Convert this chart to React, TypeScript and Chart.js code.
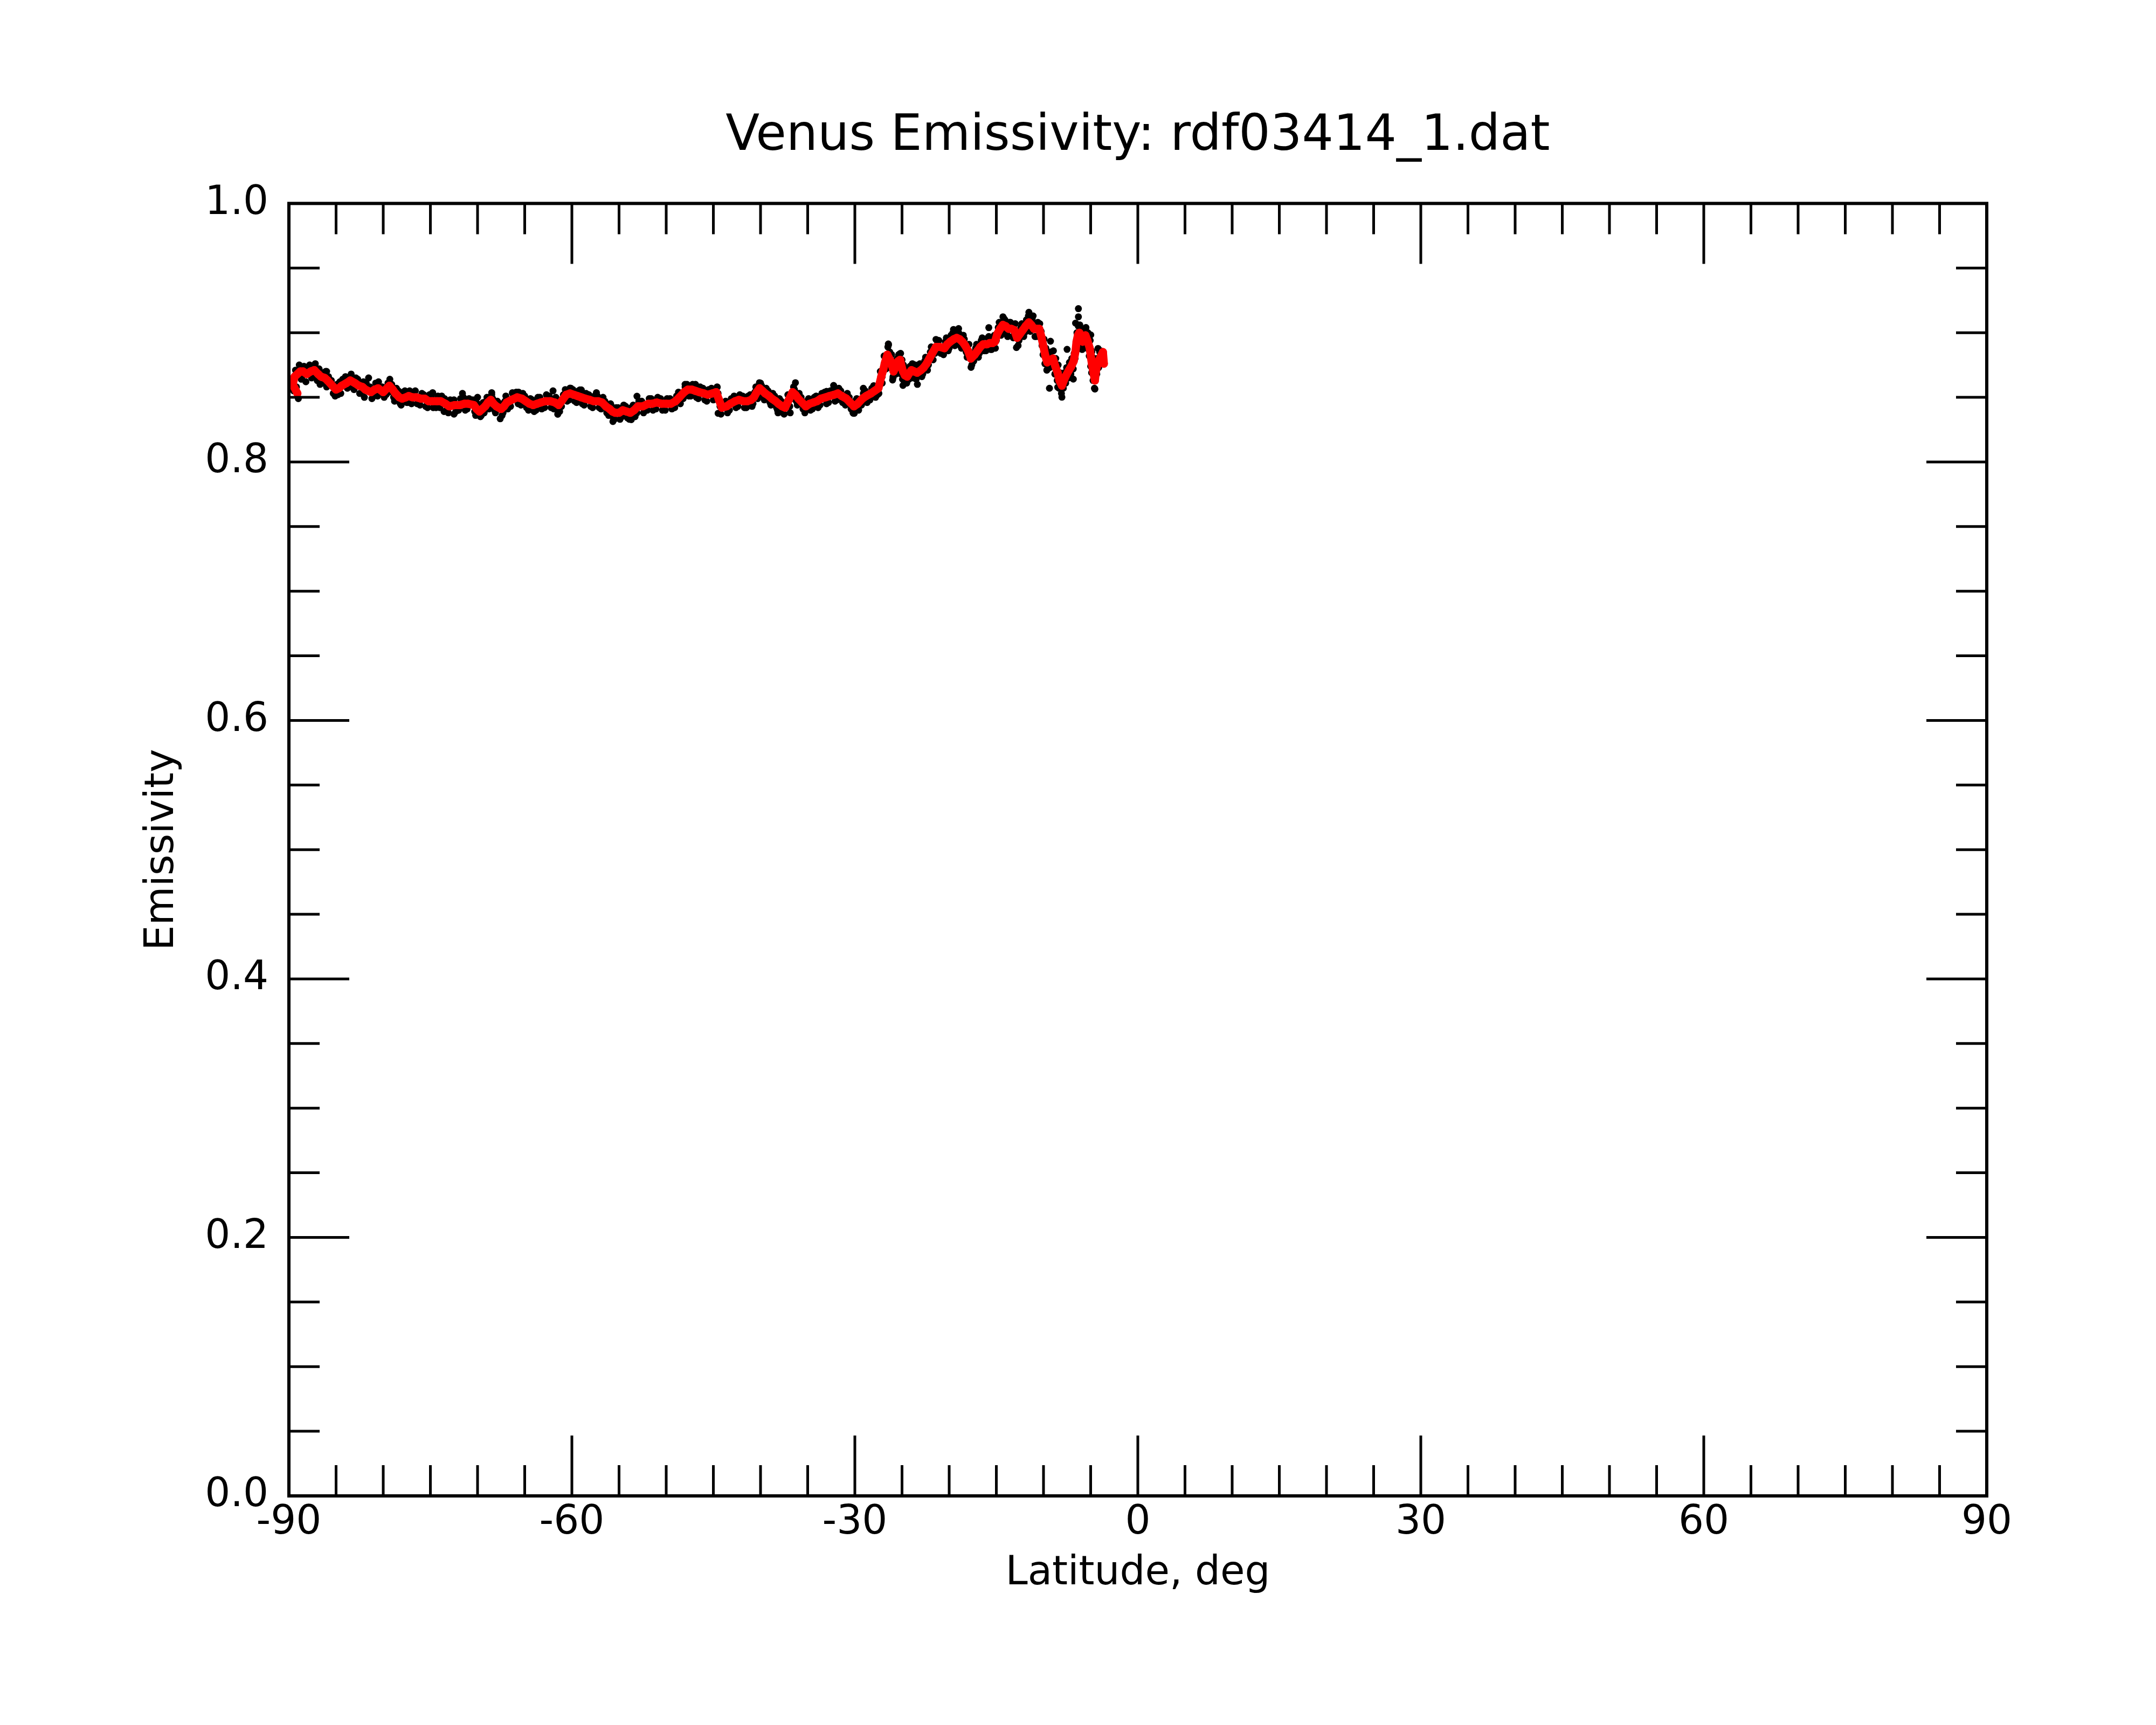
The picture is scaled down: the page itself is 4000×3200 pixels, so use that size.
import React, { useEffect, useRef } from 'react';
import Chart from 'chart.js/auto';

const TITLE = 'Venus Emissivity: rdf03414_1.dat';
const X_TITLE = 'Latitude, deg';
const Y_TITLE = 'Emissivity';
const FONT = 'DejaVu Sans';

const xMajorTicks = [-90, -60, -30, 0, 30, 60, 90];
const xMinorTicks = [-85, -80, -75, -70, -65, -55, -50, -45, -40, -35, -25, -20, -15, -10, -5,
  5, 10, 15, 20, 25, 35, 40, 45, 50, 55, 65, 70, 75, 80, 85];
const yMajorTicks = [0, 0.2, 0.4, 0.6, 0.8, 1.0];
const yMinorTicks = [0.05, 0.1, 0.15, 0.25, 0.3, 0.35, 0.45, 0.5, 0.55, 0.65, 0.7, 0.75, 0.85, 0.9, 0.95];

// smoothed emissivity (red)
const smoothLat = [
  -89.1, -89.6, -89.4, -88.8, -88.5, -88.1, -87.7, -87.3, -86.9, -86.6, -86.2, -85.9, -85.4, -85.0, -84.7,
  -84.4, -83.9, -83.5, -83.0, -82.6, -82.2, -81.9, -81.3, -80.9, -80.55, -80.0, -79.6, -79.35, -79.0, -78.7,
  -78.3, -78.0, -77.6, -77.3, -76.9, -76.5, -76.0, -75.6, -75.2, -74.8, -74.3, -73.9, -73.4, -73.0, -72.4,
  -71.9, -71.4, -71.0, -70.4, -70.1, -69.8, -69.5, -69.2, -68.9, -68.6, -68.3, -68.0, -67.5, -67.2, -66.9,
  -66.4, -65.8, -65.3, -64.9, -64.5, -64.1, -63.7, -63.3, -62.8, -62.3, -61.8, -61.4, -61.0, -60.6, -60.2,
  -59.8, -59.4, -59.0, -58.6, -58.1, -57.7, -57.2, -56.8, -56.4, -56.0, -55.7, -55.4, -55.0, -54.6, -54.2,
  -53.8, -53.4, -53.0, -52.5, -51.9, -51.5, -51.0, -50.5, -50.0, -49.5, -49.0, -48.6, -48.1, -47.7, -47.3,
  -46.9, -46.5, -46.0, -45.6, -45.1, -44.7, -44.4, -44.1, -43.6, -43.2, -42.7, -42.3, -41.8, -41.4, -41.0,
  -40.7, -40.4, -40.1, -39.8, -39.5, -39.1, -38.8, -38.4, -38.1, -37.7, -37.4, -37.0, -36.6, -36.3, -36.0,
  -35.6, -35.2, -34.8, -34.4, -34.0, -33.6, -33.1, -32.7, -32.2, -31.8, -31.4, -30.9, -30.5, -30.1, -29.7,
  -29.2, -28.8, -28.3, -27.9, -27.5, -27.2, -27.0, -26.8, -26.55, -26.35, -26.2, -26.0, -25.9, -25.7, -25.55,
  -25.4, -25.2, -25.05, -24.9, -24.7, -24.45, -24.2, -24.0, -23.7, -23.4, -23.0, -22.7, -22.4, -22.1, -21.8,
  -21.4, -21.0, -20.5, -20.2, -19.9, -19.5, -19.2, -18.9, -18.6, -18.3, -18.0, -17.7, -17.3, -17.0, -16.7,
  -16.4, -16.0, -15.7, -15.4, -15.15, -14.9, -14.6, -14.3, -14.0, -13.7, -13.4, -13.1, -12.8, -12.5, -12.2,
  -11.9, -11.55, -11.3, -11.0, -10.7, -10.45, -10.2, -10.0, -9.8, -9.6, -9.3, -9.0, -8.75, -8.5, -8.3,
  -8.05, -7.85, -7.6, -7.3, -7.05, -6.8, -6.6, -6.5, -6.35, -6.2, -6.0, -5.85, -5.7, -5.55, -5.35,
  -5.1, -4.95, -4.85, -4.7, -4.55, -4.45, -4.33, -4.1, -3.9, -3.7, -3.6,
];
const smoothVal = [
  0.853, 0.860, 0.866, 0.870, 0.870, 0.868, 0.870, 0.871, 0.868, 0.866, 0.865, 0.863, 0.859, 0.856, 0.857,
  0.859, 0.861, 0.863, 0.861, 0.859, 0.858, 0.856, 0.854, 0.856, 0.857, 0.854, 0.857, 0.859, 0.856, 0.853,
  0.850, 0.849, 0.850, 0.851, 0.850, 0.850, 0.849, 0.849, 0.847, 0.847, 0.847, 0.847, 0.845, 0.843, 0.844,
  0.844, 0.845, 0.845, 0.844, 0.841, 0.839, 0.841, 0.843, 0.846, 0.848, 0.845, 0.843, 0.841, 0.843, 0.846,
  0.848, 0.850, 0.849, 0.847, 0.845, 0.844, 0.845, 0.846, 0.847, 0.847, 0.846, 0.844, 0.848, 0.852, 0.853,
  0.852, 0.851, 0.850, 0.849, 0.848, 0.847, 0.847, 0.846, 0.843, 0.841, 0.839, 0.838, 0.838, 0.840, 0.839,
  0.838, 0.840, 0.843, 0.843, 0.845, 0.845, 0.846, 0.845, 0.845, 0.845, 0.847, 0.850, 0.854, 0.856, 0.856,
  0.855, 0.854, 0.853, 0.852, 0.853, 0.854, 0.848, 0.842, 0.843, 0.845, 0.847, 0.848, 0.847, 0.847, 0.848,
  0.850, 0.854, 0.857, 0.855, 0.853, 0.851, 0.849, 0.847, 0.845, 0.843, 0.842, 0.848, 0.854, 0.852, 0.849,
  0.846, 0.843, 0.845, 0.846, 0.847, 0.849, 0.850, 0.851, 0.852, 0.853, 0.851, 0.849, 0.846, 0.843, 0.845,
  0.849, 0.851, 0.853, 0.855, 0.857, 0.866, 0.871, 0.877, 0.883, 0.880, 0.878, 0.873, 0.870, 0.873, 0.875,
  0.878, 0.879, 0.874, 0.870, 0.867, 0.866, 0.869, 0.871, 0.870, 0.869, 0.871, 0.873, 0.876, 0.880, 0.884,
  0.889, 0.889, 0.888, 0.891, 0.893, 0.895, 0.896, 0.895, 0.893, 0.890, 0.886, 0.880, 0.883, 0.886, 0.889,
  0.891, 0.891, 0.892, 0.892, 0.893, 0.899, 0.903, 0.906, 0.905, 0.903, 0.903, 0.902, 0.896, 0.899, 0.902,
  0.905, 0.908, 0.906, 0.903, 0.903, 0.903, 0.896, 0.889, 0.882, 0.877, 0.879, 0.880, 0.874, 0.869, 0.863,
  0.859, 0.863, 0.867, 0.871, 0.874, 0.878, 0.886, 0.893, 0.898, 0.900, 0.896, 0.893, 0.896, 0.898, 0.894,
  0.888, 0.880, 0.875, 0.869, 0.863, 0.870, 0.874, 0.879, 0.882, 0.885, 0.876,
];

// raw samples (black dots): [latitude, emissivity]
const rawPoints: [number, number][] = [
  [-89.2, 0.858], [-89.0, 0.849], [-89.7, 0.864], [-89.5, 0.855], [-89.3, 0.871], [-89.5, 0.862],
  [-88.9, 0.875], [-88.7, 0.864], [-88.4, 0.874], [-88.6, 0.866], [-88.0, 0.873], [-88.2, 0.862],
  [-87.8, 0.875], [-87.6, 0.865], [-87.2, 0.876], [-87.4, 0.867], [-86.8, 0.872], [-87.0, 0.863],
  [-86.5, 0.869], [-86.7, 0.860], [-86.1, 0.870], [-86.3, 0.861], [-85.8, 0.866], [-86.0, 0.858],
  [-85.5, 0.863], [-85.3, 0.853], [-84.9, 0.860], [-85.1, 0.851], [-84.6, 0.862], [-84.8, 0.852],
  [-84.3, 0.864], [-84.5, 0.853], [-84.0, 0.866], [-83.8, 0.857], [-83.4, 0.868], [-83.6, 0.858],
  [-82.9, 0.865], [-83.1, 0.856], [-82.7, 0.864], [-82.5, 0.853], [-82.1, 0.862], [-82.3, 0.853],
  [-81.8, 0.861], [-82.0, 0.850], [-81.4, 0.858], [-81.2, 0.849], [-80.8, 0.861], [-81.0, 0.851],
  [-80.5, 0.862], [-80.6, 0.851], [-80.1, 0.858], [-79.9, 0.850], [-79.5, 0.861], [-79.7, 0.852],
  [-79.3, 0.864], [-79.4, 0.854], [-79.1, 0.860], [-78.9, 0.850], [-78.6, 0.857], [-78.8, 0.847],
  [-78.4, 0.855], [-78.2, 0.845], [-77.9, 0.854], [-78.1, 0.844], [-77.7, 0.855], [-77.5, 0.846],
  [-77.2, 0.855], [-77.4, 0.846], [-76.8, 0.854], [-77.0, 0.845], [-76.6, 0.855], [-76.4, 0.845],
  [-75.9, 0.853], [-76.1, 0.844], [-75.7, 0.852], [-75.5, 0.843], [-75.1, 0.852], [-75.3, 0.842],
  [-74.9, 0.851], [-74.7, 0.842], [-74.2, 0.851], [-74.4, 0.842], [-73.8, 0.851], [-74.0, 0.842],
  [-73.5, 0.849], [-73.3, 0.840], [-72.9, 0.848], [-73.1, 0.838], [-72.5, 0.848], [-72.3, 0.839],
  [-71.8, 0.849], [-72.0, 0.840], [-71.5, 0.850], [-71.3, 0.840], [-70.9, 0.849], [-71.1, 0.841],
  [-70.5, 0.848], [-70.3, 0.839], [-70.0, 0.845], [-70.2, 0.836], [-69.9, 0.843], [-69.7, 0.835],
  [-69.4, 0.846], [-69.6, 0.836], [-69.1, 0.847], [-69.3, 0.838], [-69.0, 0.850], [-68.8, 0.841],
  [-68.5, 0.852], [-68.7, 0.843], [-68.4, 0.849], [-68.2, 0.840], [-67.9, 0.847], [-68.1, 0.838],
  [-67.6, 0.845], [-67.4, 0.836], [-67.1, 0.847], [-67.3, 0.838], [-67.0, 0.851], [-66.8, 0.841],
  [-66.3, 0.853], [-66.5, 0.843], [-65.9, 0.854], [-65.7, 0.845], [-65.2, 0.853], [-65.4, 0.844],
  [-65.0, 0.851], [-64.8, 0.842], [-64.4, 0.849], [-64.6, 0.840], [-64.2, 0.848], [-64.0, 0.839],
  [-63.6, 0.850], [-63.8, 0.840], [-63.4, 0.850], [-63.2, 0.841], [-62.7, 0.852], [-62.9, 0.842],
  [-62.4, 0.851], [-62.2, 0.842], [-61.7, 0.850], [-61.9, 0.841], [-61.5, 0.848], [-61.3, 0.839],
  [-60.9, 0.852], [-61.1, 0.843], [-60.7, 0.856], [-60.5, 0.847], [-60.1, 0.857], [-60.3, 0.848],
  [-59.9, 0.856], [-59.7, 0.847], [-59.3, 0.855], [-59.5, 0.846], [-59.1, 0.854], [-58.9, 0.845],
  [-58.5, 0.853], [-58.7, 0.844], [-58.2, 0.852], [-58.0, 0.843], [-57.6, 0.851], [-57.8, 0.842],
  [-57.3, 0.851], [-57.1, 0.842], [-56.7, 0.850], [-56.9, 0.841], [-56.5, 0.847], [-56.3, 0.838],
  [-55.9, 0.845], [-56.1, 0.836], [-55.8, 0.843], [-55.6, 0.834], [-55.3, 0.842], [-55.5, 0.833],
  [-55.1, 0.842], [-54.9, 0.833], [-54.5, 0.844], [-54.7, 0.835], [-54.3, 0.843], [-54.1, 0.834],
  [-53.7, 0.842], [-53.9, 0.833], [-53.5, 0.844], [-53.3, 0.835], [-52.9, 0.847], [-53.1, 0.838],
  [-52.6, 0.847], [-52.4, 0.838], [-51.8, 0.849], [-52.0, 0.840], [-51.6, 0.849], [-51.4, 0.840],
  [-50.9, 0.850], [-51.1, 0.841], [-50.6, 0.849], [-50.4, 0.840], [-49.9, 0.849], [-50.1, 0.840],
  [-49.6, 0.849], [-49.4, 0.841], [-48.9, 0.851], [-49.1, 0.842], [-48.7, 0.854], [-48.5, 0.845],
  [-48.0, 0.858], [-48.2, 0.849], [-47.8, 0.860], [-47.6, 0.851], [-47.2, 0.860], [-47.4, 0.851],
  [-47.0, 0.859], [-46.8, 0.850], [-46.4, 0.858], [-46.6, 0.849], [-46.1, 0.857], [-45.9, 0.848],
  [-45.5, 0.856], [-45.7, 0.847], [-45.2, 0.857], [-45.0, 0.848], [-44.6, 0.858], [-44.8, 0.849],
  [-44.5, 0.853], [-44.3, 0.843], [-44.0, 0.846], [-44.2, 0.837], [-43.7, 0.847], [-43.5, 0.838],
  [-43.1, 0.849], [-43.3, 0.840], [-42.8, 0.851], [-42.6, 0.842], [-42.2, 0.852], [-42.4, 0.843],
  [-41.9, 0.851], [-41.7, 0.842], [-41.3, 0.851], [-41.5, 0.842], [-41.1, 0.852], [-40.9, 0.843],
  [-40.6, 0.854], [-40.8, 0.845], [-40.5, 0.858], [-40.3, 0.849], [-40.0, 0.861], [-40.2, 0.852],
  [-39.9, 0.859], [-39.7, 0.850], [-39.4, 0.857], [-39.6, 0.848], [-39.2, 0.855], [-39.0, 0.846],
  [-38.7, 0.853], [-38.9, 0.844], [-38.5, 0.851], [-38.3, 0.842], [-38.0, 0.849], [-38.2, 0.840],
  [-37.8, 0.847], [-37.6, 0.838], [-37.3, 0.846], [-37.5, 0.837], [-37.1, 0.852], [-36.9, 0.843],
  [-36.5, 0.858], [-36.7, 0.849], [-36.4, 0.856], [-36.2, 0.847], [-35.9, 0.853], [-36.1, 0.844],
  [-35.7, 0.850], [-35.5, 0.841], [-35.1, 0.847], [-35.3, 0.838], [-34.9, 0.849], [-34.7, 0.840],
  [-34.3, 0.850], [-34.5, 0.841], [-34.1, 0.851], [-33.9, 0.842], [-33.5, 0.853], [-33.7, 0.844],
  [-33.2, 0.854], [-33.0, 0.845], [-32.6, 0.855], [-32.8, 0.846], [-32.3, 0.856], [-32.1, 0.847],
  [-31.7, 0.857], [-31.9, 0.848], [-31.5, 0.855], [-31.3, 0.846], [-30.8, 0.853], [-31.0, 0.844],
  [-30.6, 0.850], [-30.4, 0.841], [-30.0, 0.847], [-30.2, 0.838], [-29.8, 0.849], [-29.6, 0.840],
  [-29.1, 0.853], [-29.3, 0.844], [-28.9, 0.855], [-28.7, 0.846], [-28.2, 0.857], [-28.4, 0.848],
  [-28.0, 0.859], [-27.8, 0.850], [-27.4, 0.861], [-27.6, 0.852], [-27.3, 0.870], [-27.1, 0.861],
  [-26.9, 0.876], [-27.1, 0.866], [-26.9, 0.882], [-26.7, 0.872], [-26.5, 0.889], [-26.6, 0.878],
  [-26.3, 0.885], [-26.4, 0.875], [-26.1, 0.883], [-26.3, 0.873], [-26.05, 0.878], [-25.95, 0.866],
  [-25.85, 0.875], [-25.95, 0.865], [-25.75, 0.878], [-25.65, 0.868], [-25.5, 0.880], [-25.6, 0.870],
  [-25.35, 0.883], [-25.45, 0.873], [-25.15, 0.884], [-25.25, 0.873], [-25.0, 0.879], [-25.1, 0.868],
  [-24.85, 0.875], [-24.95, 0.864], [-24.65, 0.872], [-24.75, 0.862], [-24.4, 0.871], [-24.5, 0.861],
  [-24.15, 0.874], [-24.25, 0.864], [-23.9, 0.876], [-24.1, 0.866], [-23.6, 0.875], [-23.8, 0.865],
  [-23.3, 0.874], [-23.5, 0.864], [-23.1, 0.876], [-22.9, 0.866], [-22.6, 0.878], [-22.8, 0.868],
  [-22.5, 0.881], [-22.3, 0.871], [-22.0, 0.885], [-22.2, 0.875], [-21.9, 0.889], [-21.7, 0.879],
  [-21.3, 0.894], [-21.5, 0.884], [-21.1, 0.894], [-20.9, 0.884], [-20.4, 0.893], [-20.6, 0.883],
  [-20.3, 0.896], [-20.1, 0.886], [-19.8, 0.898], [-20.0, 0.888], [-19.6, 0.900], [-19.4, 0.890],
  [-19.1, 0.901], [-19.3, 0.891], [-19.0, 0.900], [-18.8, 0.890], [-18.5, 0.898], [-18.7, 0.888],
  [-18.4, 0.895], [-18.2, 0.885], [-17.9, 0.891], [-18.1, 0.881], [-17.8, 0.885], [-17.6, 0.875],
  [-17.2, 0.888], [-17.4, 0.878], [-17.1, 0.891], [-16.9, 0.881], [-16.6, 0.894], [-16.8, 0.884],
  [-16.5, 0.896], [-16.3, 0.886], [-15.9, 0.896], [-16.1, 0.886], [-15.8, 0.897], [-15.6, 0.887],
  [-15.3, 0.897], [-15.5, 0.887], [-15.2, 0.898], [-15.1, 0.888], [-14.8, 0.904], [-15.0, 0.894],
  [-14.7, 0.908], [-14.5, 0.898], [-14.2, 0.911], [-14.4, 0.901], [-14.1, 0.910], [-13.9, 0.899],
  [-13.6, 0.908], [-13.8, 0.897], [-13.5, 0.908], [-13.3, 0.897], [-13.0, 0.907], [-13.2, 0.896],
  [-12.9, 0.901], [-12.7, 0.890], [-12.4, 0.904], [-12.6, 0.894], [-12.3, 0.907], [-12.1, 0.897],
  [-11.8, 0.910], [-12.0, 0.900], [-11.6, 0.913], [-11.5, 0.903], [-11.2, 0.911], [-11.4, 0.901],
  [-11.1, 0.908], [-10.9, 0.897], [-10.6, 0.908], [-10.8, 0.897], [-10.4, 0.907], [-10.5, 0.897],
  [-10.25, 0.901], [-10.15, 0.890], [-9.95, 0.895], [-10.05, 0.883], [-9.75, 0.888], [-9.85, 0.876],
  [-9.55, 0.883], [-9.65, 0.871], [-9.25, 0.885], [-9.35, 0.873], [-8.95, 0.886], [-9.05, 0.874],
  [-8.7, 0.880], [-8.8, 0.868], [-8.45, 0.875], [-8.55, 0.863], [-8.25, 0.869], [-8.35, 0.857],
  [-8.0, 0.865], [-8.1, 0.853], [-7.8, 0.869], [-7.9, 0.857], [-7.55, 0.873], [-7.65, 0.861],
  [-7.25, 0.877], [-7.35, 0.865], [-7.0, 0.880], [-7.1, 0.868], [-6.75, 0.884], [-6.85, 0.872],
  [-6.55, 0.893], [-6.65, 0.880], [-6.45, 0.900], [-6.55, 0.887], [-6.3, 0.905], [-6.4, 0.892],
  [-6.15, 0.906], [-6.25, 0.894], [-5.95, 0.902], [-6.05, 0.890], [-5.8, 0.899], [-5.9, 0.887],
  [-5.65, 0.902], [-5.75, 0.890], [-5.5, 0.904], [-5.6, 0.892], [-5.3, 0.900], [-5.4, 0.888],
  [-5.05, 0.894], [-5.15, 0.882], [-4.9, 0.886], [-5.0, 0.874], [-4.8, 0.881], [-4.9, 0.869],
  [-4.65, 0.875], [-4.75, 0.863], [-4.5, 0.869], [-4.6, 0.857], [-4.4, 0.876], [-4.5, 0.864],
  [-4.3, 0.880], [-4.35, 0.868], [-4.05, 0.885], [-4.15, 0.873], [-3.95, 0.886], [-3.85, 0.876],
  // scattered outliers
  [-86.0, 0.870], [-81.55, 0.865], [-74.76, 0.8536], [-71.6, 0.853], [-70.0, 0.850], [-68.5, 0.8536],
  [-67.6, 0.8334], [-61.5, 0.8369], [-62.0, 0.855], [-60.2, 0.8571], [-59.0, 0.8557], [-57.4, 0.8536],
  [-72.5, 0.837], [-73.55, 0.839], [-66.3, 0.8536], [-65.65, 0.854], [-53.1, 0.8508], [-55.65, 0.8313],
  [-53.7, 0.8327], [-36.3, 0.8613], [-33.0, 0.8546], [-32.25, 0.8592], [-30.06, 0.8376], [-40.12, 0.8613],
  [-44.6, 0.8578], [-48.0, 0.860], [-46.9, 0.860], [-44.5, 0.8376], [-59.15, 0.8557], [-26.45, 0.8913],
  [-29.1, 0.857], [-27.45, 0.853], [-36.85, 0.838], [-38.15, 0.838], [-30.15, 0.8376], [-26.43, 0.8906],
  [-26.0, 0.8634], [-25.23, 0.8837], [-24.9, 0.8592], [-23.37, 0.860], [-21.4, 0.8948], [-19.54, 0.9025],
  [-19.0, 0.9032], [-17.68, 0.8732], [-15.8, 0.9039], [-14.3, 0.9123], [-12.87, 0.8885], [-11.55, 0.9158],
  [-11.1, 0.913], [-9.26, 0.8934], [-9.58, 0.8718], [-8.05, 0.8501], [-7.5, 0.8871], [-6.84, 0.8641],
  [-6.3, 0.9186], [-6.3, 0.9123], [-6.6, 0.9074], [-5.54, 0.9032], [-4.99, 0.8983], [-4.88, 0.885],
  [-4.55, 0.8564], [-4.22, 0.8878], [-9.37, 0.857], [-8.49, 0.8578],
];

const MAJOR_LEN = 112;
const MINOR_LEN = 57;

const frameTicks = {
  id: 'frameTicks',
  afterDraw(chart: any) {
    const { ctx, chartArea } = chart;
    const { left, right, top, bottom } = chartArea;
    const xs = chart.scales.x;
    const ys = chart.scales.y;
    ctx.save();
    ctx.strokeStyle = '#000';
    ctx.lineWidth = 5;
    ctx.beginPath();
    const xTick = (v: number, len: number) => {
      const px = xs.getPixelForValue(v);
      ctx.moveTo(px, bottom);
      ctx.lineTo(px, bottom - len);
      ctx.moveTo(px, top);
      ctx.lineTo(px, top + len);
    };
    const yTick = (v: number, len: number) => {
      const py = ys.getPixelForValue(v);
      ctx.moveTo(left, py);
      ctx.lineTo(left + len, py);
      ctx.moveTo(right, py);
      ctx.lineTo(right - len, py);
    };
    xMajorTicks.forEach((v) => xTick(v, MAJOR_LEN));
    xMinorTicks.forEach((v) => xTick(v, MINOR_LEN));
    yMajorTicks.forEach((v) => yTick(v, MAJOR_LEN));
    yMinorTicks.forEach((v) => yTick(v, MINOR_LEN));
    ctx.stroke();
    ctx.lineWidth = 6;
    ctx.strokeRect(left, top, right - left, bottom - top);
    ctx.restore();
  },
};

const EmissivityChart: React.FC = () => {
  const canvasRef = useRef<HTMLCanvasElement | null>(null);

  useEffect(() => {
    if (!canvasRef.current) return;
    const chart = new Chart(canvasRef.current, {
      type: 'scatter',
      data: {
        datasets: [
          {
            label: 'smoothed',
            data: smoothLat.map((x, i) => ({ x, y: smoothVal[i] })),
            showLine: true,
            borderColor: '#ff0000',
            backgroundColor: '#ff0000',
            borderWidth: 15,
            borderJoinStyle: 'round',
            borderCapStyle: 'round',
            pointRadius: 7.5,
            pointBorderWidth: 0,
            tension: 0,
            order: 0,
          },
          {
            label: 'raw',
            data: rawPoints.map(([x, y]) => ({ x, y })),
            showLine: false,
            borderColor: '#000',
            backgroundColor: '#000',
            pointRadius: 6.5,
            pointBorderWidth: 0,
            order: 1,
          },
        ],
      },
      options: {
        responsive: false,
        animation: false,
        devicePixelRatio: 1,
        events: [],
        layout: { padding: { left: 0, right: 314, top: 0, bottom: 0 } },
        plugins: {
          legend: { display: false },
          tooltip: { enabled: false },
          title: {
            display: true,
            fullSize: false,
            text: TITLE,
            color: '#000',
            font: { family: FONT, size: 92, weight: 'normal' },
            padding: { top: 199, bottom: 68 },
          },
        },
        scales: {
          x: {
            type: 'linear',
            position: 'bottom',
            min: -90,
            max: 90,
            afterBuildTicks: (s: any) => {
              s.ticks = xMajorTicks.map((value) => ({ value }));
            },
            afterFit: (s: any) => {
              s.height = 425;
            },
            ticks: {
              color: '#000',
              font: { family: FONT, size: 74 },
              padding: 6,
              maxRotation: 0,
              autoSkip: false,
              callback: (v: any) => String(v),
            },
            grid: { display: false, drawTicks: false },
            border: { display: false },
            title: {
              display: true,
              text: X_TITLE,
              color: '#000',
              font: { family: FONT, size: 74 },
              padding: { top: 0, bottom: 236 },
            },
          },
          y: {
            type: 'linear',
            position: 'left',
            min: 0,
            max: 1,
            afterBuildTicks: (s: any) => {
              s.ticks = yMajorTicks.map((value) => ({ value }));
            },
            afterFit: (s: any) => {
              s.width = 536;
            },
            ticks: {
              color: '#000',
              font: { family: FONT, size: 74 },
              padding: 38,
              autoSkip: false,
              callback: (v: any) => Number(v).toFixed(1),
            },
            grid: { display: false, drawTicks: false },
            border: { display: false },
            title: {
              display: true,
              text: Y_TITLE,
              color: '#000',
              font: { family: FONT, size: 74 },
              padding: { top: 257, bottom: 0 },
            },
          },
        },
      },
      plugins: [frameTicks],
    });
    return () => {
      chart.destroy();
    };
  }, []);

  return (
    <canvas
      ref={canvasRef}
      width={4000}
      height={3200}
      style={{ display: 'block', width: 4000, height: 3200 }}
    />
  );
};

export default function App() {
  return (
    <div style={{ position: 'absolute', left: 0, top: 0, width: 4000, height: 3200, background: '#fff' }}>
      <EmissivityChart />
    </div>
  );
}
